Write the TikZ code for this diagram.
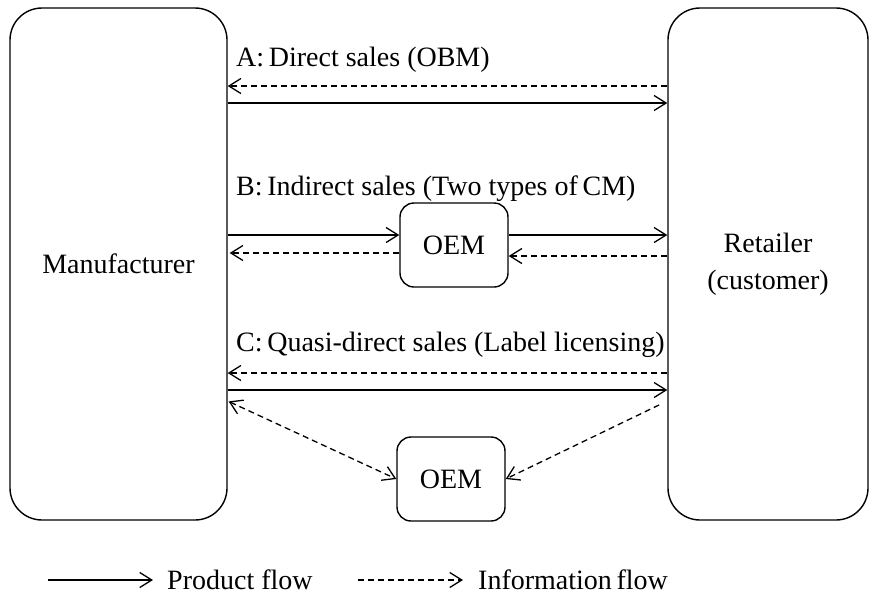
\documentclass[tikz,border=0pt]{standalone}
\usepackage{fontspec}
\setmainfont{Liberation Serif}
\usetikzlibrary{arrows.meta}
\begin{document}
\begin{tikzpicture}[x=1pt,y=-1pt,
  every node/.style={font=\fontsize{28}{37}\selectfont, inner sep=0pt},
  party/.style={draw, line width=1.4pt, rounded corners=32pt, minimum width=#1, minimum height=512pt},
  oembox/.style={draw, line width=1.4pt, rounded corners=14pt, minimum width=108pt, minimum height=84pt},
  lbl/.style={anchor=base west},
  tip/.style={-{Straight Barb[length=12pt,width=15pt,line width=1.3pt]}},
  prod/.style={tip, line width=1.3pt},
  info/.style={tip, line width=1.3pt, dash pattern=on 6pt off 4pt}]
  \useasboundingbox (0,0) rectangle (871,595);

  % the two parties
  \node[party=217pt] (manu) at (118.5,264) {Manufacturer};
  \node[party=200pt, align=center] (ret) at (768,264) {Retailer\\(customer)};

  % contract manufacturers
  \node[oembox] (oemB) at (454,245) {OEM};
  \node[oembox] (oemC) at (451,479) {OEM};

  % heights of the horizontal flows
  \coordinate (yA1) at (0,86);
  \coordinate (yA2) at (0,103);
  \coordinate (yB1) at (0,235);
  \coordinate (yB2) at (0,253);
  \coordinate (yB3) at (0,256);
  \coordinate (yC1) at (0,373);
  \coordinate (yC2) at (0,390);
  \coordinate (yC3) at (0,401);

  % A: direct sales
  \node[lbl] (labA) at (236,66) {A:\,Direct sales (OBM)};
  \draw[info] (ret.west |- yA1) -- (manu.east |- yA1);
  \draw[prod] (manu.east |- yA2) -- (ret.west |- yA2);

  % B: indirect sales through an OEM
  \node[lbl] (labB) at (236,195) {B:\,Indirect sales (Two types of\,CM)};
  \draw[prod] (manu.east |- yB1) -- (oemB.west |- yB1);
  \draw[prod] (oemB.east |- yB1) -- (ret.west |- yB1);
  \draw[info, shorten >=2pt] (oemB.west |- yB2) -- (manu.east |- yB2);
  \draw[info] (ret.west |- yB3) -- (oemB.east |- yB3);

  % C: quasi-direct sales
  \node[lbl] (labC) at (236,351) {C:\,Quasi-direct sales (Label licensing)};
  \draw[info] (ret.west |- yC1) -- (manu.east |- yC1);
  \draw[prod] (manu.east |- yC2) -- (ret.west |- yC2);
  \draw[info, {Straight Barb[length=12pt,width=15pt,line width=1.3pt]}-{Straight Barb[length=12pt,width=15pt,line width=1.3pt]}, shorten <=1pt]
    (manu.east |- yC3) -- (oemC.west);
  \draw[info, shorten <=9pt] (ret.west |- yC3) -- (oemC.east);

  % legend
  \coordinate (lp1) at (48,580);
  \coordinate (lp2) at (153,580);
  \coordinate (li1) at (358,580);
  \coordinate (li2) at (463,580);
  \draw[prod] (lp1) -- (lp2);
  \node[lbl] (legP) at (167,589) {Product flow};
  \draw[info] (li1) -- (li2);
  \node[lbl] (legI) at (478,589) {Information\,flow};
\end{tikzpicture}
\end{document}
